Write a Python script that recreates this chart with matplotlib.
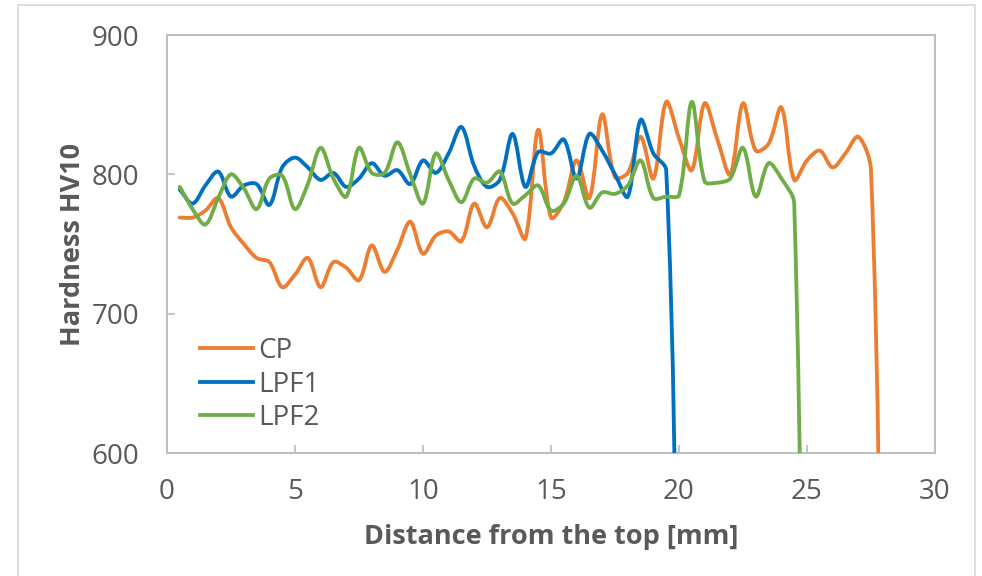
import numpy as np
import matplotlib
matplotlib.use("Agg")
import matplotlib.pyplot as plt
from matplotlib.path import Path
from matplotlib.patches import PathPatch, Rectangle
from matplotlib.lines import Line2D

# Hardness profiles, HV10 readings every 0.5 mm from the top surface
dist_cp = np.arange(0.5, 28.01, 0.5)
hv_cp = [769, 769, 774, 783, 762, 750, 740, 737, 719, 728,
         740, 719, 737, 733, 724, 749, 730, 746, 766, 743,
         756, 759, 752, 779, 762, 783, 772, 754, 832, 769,
         780, 810, 783, 843, 798, 801, 827, 797, 852, 826,
         803, 851, 825, 800, 851, 817, 822, 848, 796, 810,
         817, 805, 815, 827, 803, 360]

dist_lpf1 = np.arange(0.5, 20.01, 0.5)
hv_lpf1 = [789, 779, 792, 802, 784, 792, 793, 778, 805, 812,
           805, 796, 801, 791, 797, 808, 799, 803, 793, 810,
           801, 815, 834, 806, 791, 796, 829, 791, 816, 815,
           825, 797, 829, 817, 800, 784, 839, 815, 803, 430]

dist_lpf2 = np.arange(0.5, 25.01, 0.5)
hv_lpf2 = [791, 775, 764, 783, 800, 790, 775, 797, 799, 775,
           793, 819, 797, 784, 819, 801, 801, 823, 800, 779,
           815, 796, 780, 797, 794, 802, 779, 785, 792, 774,
           779, 799, 776, 787, 786, 792, 810, 783, 784, 785,
           852, 795, 794, 797, 819, 784, 808, 797, 779, 180]

series = [
    ("CP", dist_cp, hv_cp, "#ED7D31"),
    ("LPF1", dist_lpf1, hv_lpf1, "#0070C0"),
    ("LPF2", dist_lpf2, hv_lpf2, "#70AD47"),
]

x_ticks = [0, 5, 10, 15, 20, 25, 30]
y_ticks = [600, 700, 800, 900]
x_lim = (0, 30)
y_lim = (600, 900)

TEXT = "#595959"
GRID = "#BFBFBF"
FONT = "Open Sans"
plt.rcParams["font.family"] = [FONT, "DejaVu Sans"]

W, H = 982, 576
fig = plt.figure(figsize=(W / 100, H / 100), dpi=100)
ax_l, ax_r, ax_t, ax_b = 167, 935, 35, 453
ax = fig.add_axes([ax_l / W, 1 - ax_b / H, (ax_r - ax_l) / W, (ax_b - ax_t) / H])
ax.set_xlim(*x_lim)
ax.set_ylim(*y_lim)

# pixel scale of the data, used so the smoothing behaves like on screen
sx = (ax_r - ax_l) / (x_lim[1] - x_lim[0])
sy = (ax_b - ax_t) / (y_lim[1] - y_lim[0])


def smooth_path(xs, ys):
    """Cubic Bezier through the points with length-weighted Catmull-Rom tangents."""
    P = np.column_stack([np.asarray(xs, float) * sx, np.asarray(ys, float) * sy])
    n = len(P)
    verts = [P[0]]
    codes = [Path.MOVETO]
    for i in range(n - 1):
        p1, p2 = P[i], P[i + 1]
        d12 = np.hypot(*(p2 - p1))
        if i > 0:
            p0 = P[i - 1]
            d01 = np.hypot(*(p1 - p0))
            t1 = (p2 - p0) * d12 / (d01 + d12) / 3.0
        else:
            t1 = (p2 - p1) / 3.0
        if i + 2 < n:
            p3 = P[i + 2]
            d23 = np.hypot(*(p3 - p2))
            t2 = (p3 - p1) * d12 / (d12 + d23) / 3.0
        else:
            t2 = (p2 - p1) / 3.0
        verts += [p1 + t1, p2 - t2, p2]
        codes += [Path.CURVE4] * 3
    V = np.array(verts) / np.array([sx, sy])
    return Path(V, codes)


handles = []
for z, (name, xs, ys, col) in enumerate(series):
    patch = PathPatch(smooth_path(xs, ys), facecolor="none", edgecolor=col,
                      lw=2.75, capstyle="round", joinstyle="round", zorder=3 + z)
    ax.add_patch(patch)
    handles.append(Line2D([], [], color=col, lw=2.75, label=name))

ax.set_xticks(x_ticks)
ax.set_yticks(y_ticks)
ax.set_xticklabels([str(v) for v in x_ticks])
ax.set_yticklabels([str(v) for v in y_ticks])
ax.tick_params(axis="both", direction="in", length=6, width=1.3, color=GRID,
               labelcolor=TEXT, labelsize=20)
ax.tick_params(axis="x", pad=18)
ax.tick_params(axis="y", pad=20)
for s in ax.spines.values():
    s.set_color(GRID)
    s.set_linewidth(1.5)

ax.set_xlabel("Distance from the top [mm]", fontsize=19.5, fontweight="bold",
              color=TEXT, labelpad=13)
ax.set_ylabel("Hardness HV10", fontsize=19.5, fontweight="bold",
              color=TEXT, labelpad=4)

leg = ax.legend(handles=handles, loc="upper left",
                bbox_to_anchor=((200 - ax_l) / (ax_r - ax_l), (ax_b - 337) / (ax_b - ax_t)),
                frameon=False, fontsize=20, handlelength=1.9, handletextpad=0.2,
                labelspacing=0.2, borderpad=0, borderaxespad=0)
for t in leg.get_texts():
    t.set_color(TEXT)

# chart-area border
fig.patches.append(Rectangle((18 / W, -0.02), (975 - 18) / W, 1.02 - 5 / H,
                             transform=fig.transFigure, fill=False,
                             edgecolor="#D9D9D9", lw=1.2))

fig.savefig("out.png", dpi=100)
